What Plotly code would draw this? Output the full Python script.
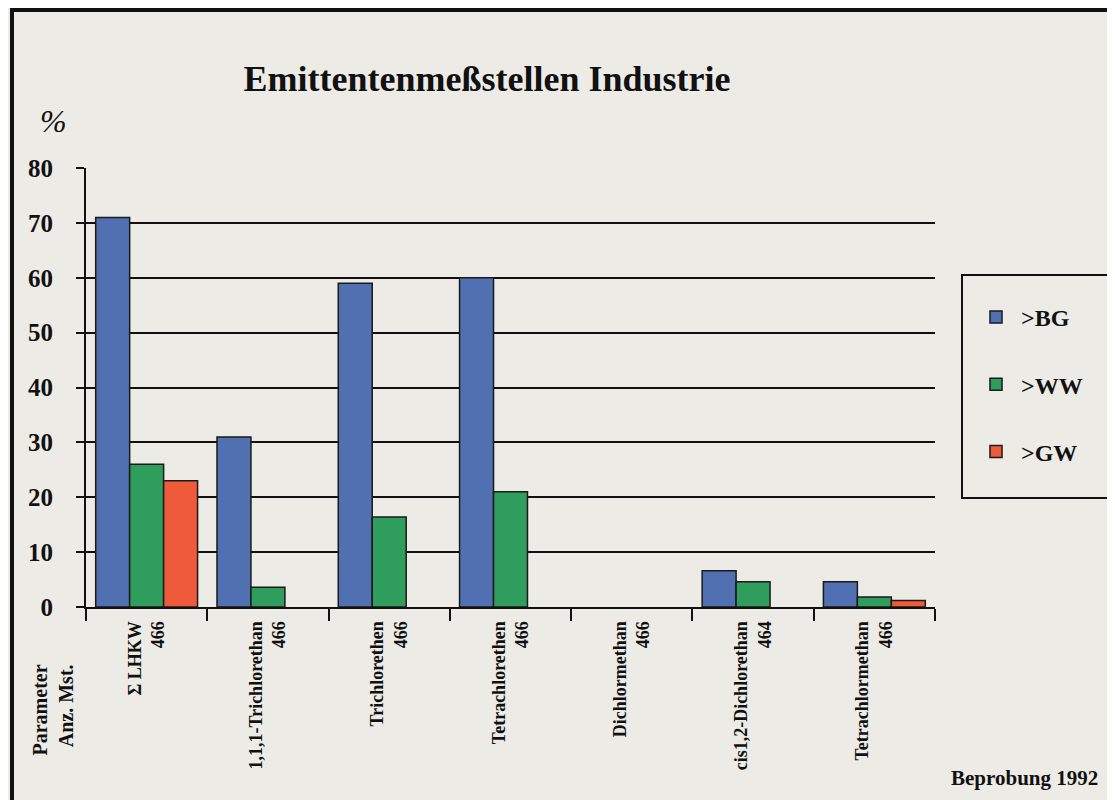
import plotly.graph_objects as go

categories = ["Σ LHKW", "1,1,1-Trichlorethan", "Trichlorethen", "Tetrachlorethen",
              "Dichlormethan", "cis1,2-Dichlorethan", "Tetrachlormethan"]
counts = [466, 466, 466, 466, 466, 464, 466]
bg = [71, 31, 59, 60, 0, 6.6, 4.6]
ww = [26, 3.6, 16.4, 21, 0, 4.6, 1.8]
gw = [23, 0, 0, 0, 0, 0, 1.2]
series_names = [">BG", ">WW", ">GW"]
colors = ["#5070b2", "#2f9e5c", "#ef5a3a"]

labels = [f"{c}<br>{n}" for c, n in zip(categories, counts)]

fig = go.Figure()
for name, vals, col in zip(series_names, [bg, ww, gw], colors):
    fig.add_trace(go.Bar(
        x=labels, y=[v if v else None for v in vals], name=name, legendgroup=name,
        marker=dict(color=col, line=dict(color="#1a1a1a", width=1.5)),
    ))

bgcol = "#ecebe6"
O = 8  # page body margin
W, H = 1115 - O, 800 - O
L, T = 86 - O, 168 - O
R = W - (935 - O)
B = H - (607 - O)
pw, ph = W - L - R, H - T - B

def px_x(x):  # reference pixel -> paper fraction
    return (x - O - L) / pw

def px_y(y):
    return (H - B - (y - O)) / ph

fig.update_layout(
    width=W, height=H,
    margin=dict(l=L, r=R, t=T, b=B),
    paper_bgcolor=bgcol, plot_bgcolor=bgcol,
    barmode="group", bargap=0.16, bargroupgap=0,
    font=dict(family="Liberation Serif", color="#111", size=16),
    title=dict(text="<b>Emittentenmeßstellen Industrie</b>", x=(487 - O) / W,
               xanchor="center", y=1 - (78 - O) / H, yanchor="middle",
               font=dict(size=36, family="Liberation Serif")),
    legend=dict(x=px_x(971), y=px_y(295), xanchor="left", yanchor="top",
                bgcolor="rgba(0,0,0,0)", borderwidth=0,
                font=dict(size=24, family="Liberation Serif", weight="bold"),
                tracegroupgap=33, traceorder="grouped", itemwidth=40),
    showlegend=True,
)
fig.update_yaxes(range=[0, 80], dtick=10, showgrid=True, gridcolor="#111", gridwidth=2,
                 showline=True, linecolor="#111", linewidth=2,
                 ticks="outside", ticklen=8, tickwidth=2, tickcolor="#111",
                 ticklabelstandoff=18,
                 tickfont=dict(size=25, family="Liberation Serif", weight="bold"),
                 zeroline=False)
fig.update_xaxes(tickangle=-90, tickson="boundaries", ticks="outside", ticklen=12,
                 tickwidth=2, tickcolor="#111", showline=True, linecolor="#111", linewidth=2,
                 ticklabelstandoff=5,
                 tickfont=dict(size=18, family="Liberation Serif", weight="bold"))

fig.add_annotation(text="<i>%</i>", x=px_x(53), y=px_y(121), xref="paper", yref="paper",
                   xanchor="center", yanchor="middle",
                   showarrow=False, font=dict(size=32, family="Liberation Serif"))
fig.add_annotation(text="<b>Parameter<br>Anz. Mst.</b>", x=px_x(52), y=px_y(758),
                   xref="paper", yref="paper", textangle=-90, showarrow=False,
                   xanchor="center", yanchor="bottom", align="right",
                   font=dict(size=20, family="Liberation Serif"))
fig.add_annotation(text="<b>Beprobung 1992</b>", x=px_x(1100), y=px_y(778),
                   xref="paper", yref="paper", showarrow=False, xanchor="right",
                   yanchor="middle",
                   font=dict(size=21, family="Liberation Serif"))

# legend box
fig.add_shape(type="rect", xref="paper", yref="paper", x0=px_x(962), x1=px_x(1112),
              y0=px_y(498), y1=px_y(275), line=dict(color="#111", width=2),
              fillcolor=bgcol, layer="below")

# outer frame
fig.add_shape(type="line", xref="paper", yref="paper", x0=px_x(12), x1=px_x(12),
              y0=px_y(9), y1=px_y(810), line=dict(color="#111", width=4))
fig.add_shape(type="line", xref="paper", yref="paper", x0=px_x(10), x1=px_x(1120),
              y0=px_y(10), y1=px_y(10), line=dict(color="#111", width=4))

fig.write_html("out.html")
